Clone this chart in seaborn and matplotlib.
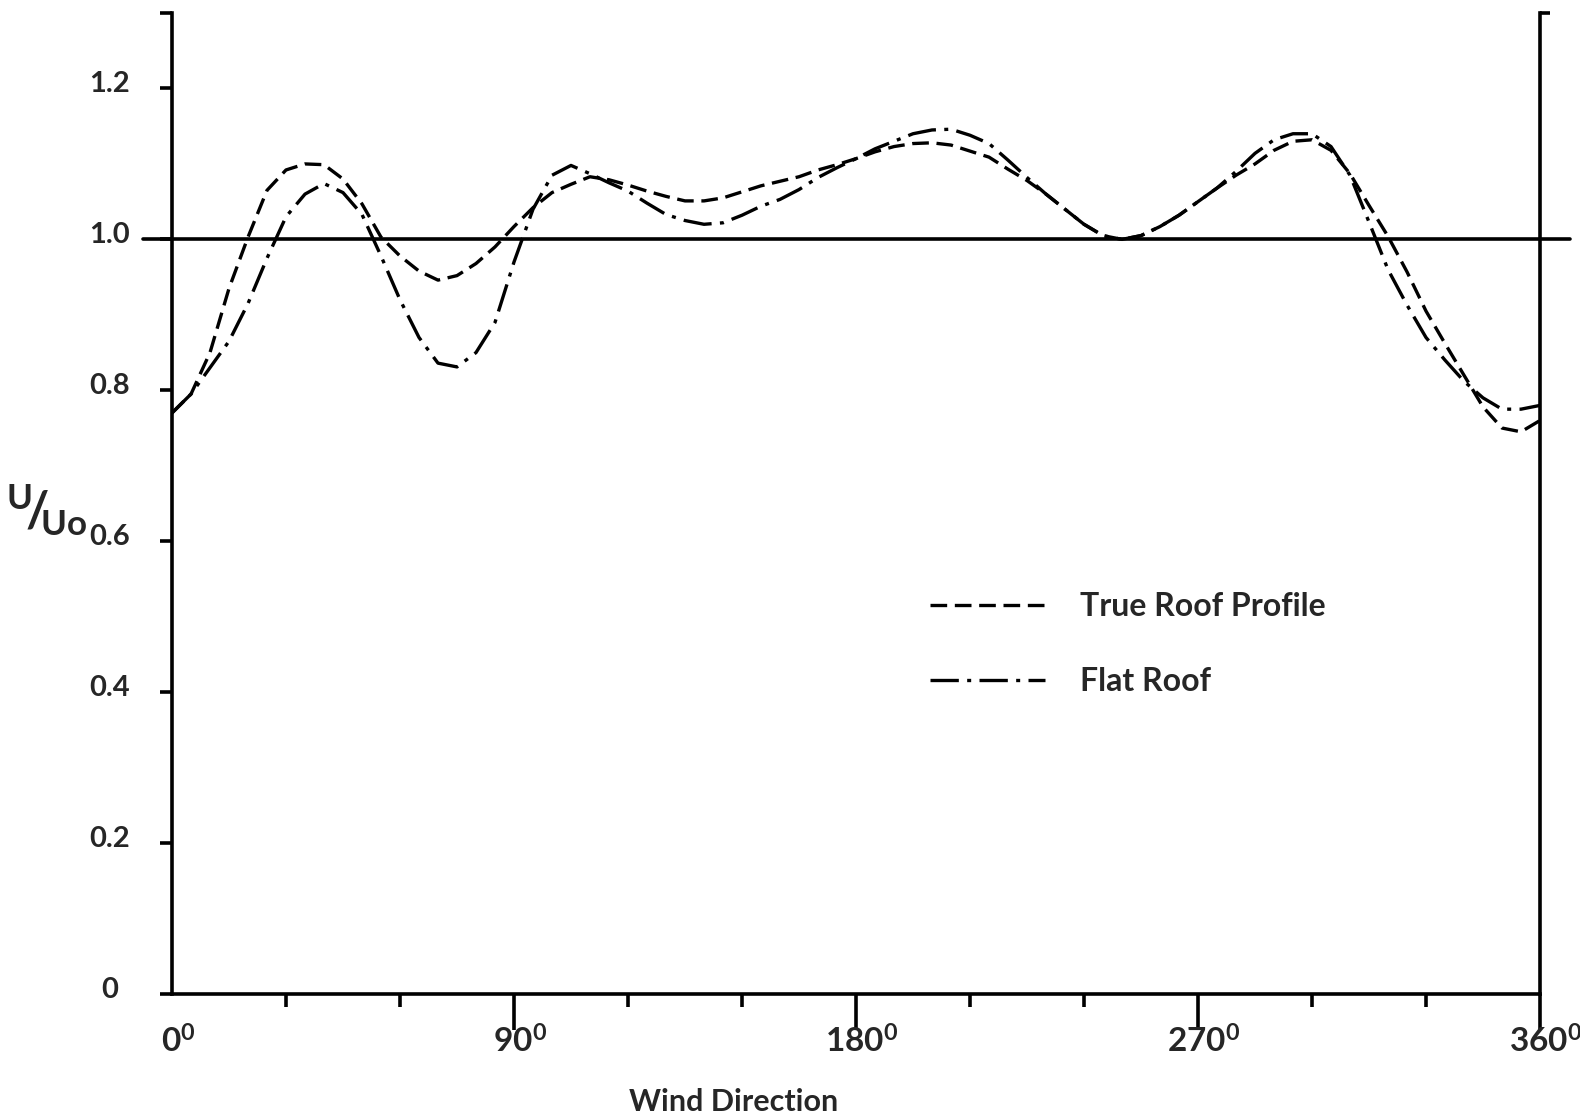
import matplotlib
matplotlib.use("Agg")
import matplotlib.pyplot as plt
import seaborn as sns
from matplotlib.transforms import ScaledTranslation

# ---- data ----
wind_direction = [0, 5, 10, 15, 20, 25, 30, 35, 40, 45, 50, 55, 60, 65, 70, 75, 80, 85, 90,
                  95, 100, 105, 110, 115, 120, 125, 130, 135, 140, 145, 150, 155, 160, 165, 170,
                  175, 180, 185, 190, 195, 200, 205, 210, 215, 220, 225, 230, 235, 240, 245, 250,
                  255, 260, 265, 270, 275, 280, 285, 290, 295, 300, 305, 310, 315, 320, 325, 330,
                  335, 340, 345, 350, 355, 360]

true_roof = [0.770, 0.795, 0.850, 0.935, 1.003, 1.065, 1.092, 1.100, 1.099, 1.080, 1.047, 1.003,
             0.978, 0.958, 0.946, 0.952, 0.968, 0.990, 1.017, 1.042, 1.062, 1.073, 1.083, 1.079,
             1.072, 1.064, 1.057, 1.051, 1.051, 1.055, 1.063, 1.071, 1.077, 1.083, 1.092, 1.099,
             1.107, 1.116, 1.123, 1.127, 1.128, 1.125, 1.117, 1.109, 1.093, 1.078, 1.060, 1.040,
             1.020, 1.005, 1.000, 1.005, 1.017, 1.032, 1.050, 1.068, 1.085, 1.100, 1.118, 1.130,
             1.132, 1.118, 1.087, 1.045, 1.004, 0.957, 0.905, 0.862, 0.820, 0.778, 0.750, 0.745,
             0.760]

flat_roof = [0.770, 0.795, 0.830, 0.865, 0.915, 0.975, 1.030, 1.060, 1.074, 1.062, 1.033, 0.978,
             0.920, 0.870, 0.836, 0.831, 0.850, 0.890, 0.970, 1.040, 1.085, 1.098, 1.087, 1.075,
             1.064, 1.048, 1.033, 1.025, 1.020, 1.022, 1.032, 1.044, 1.053, 1.066, 1.082, 1.095,
             1.107, 1.120, 1.130, 1.140, 1.145, 1.146, 1.138, 1.127, 1.105, 1.082, 1.060, 1.040,
             1.020, 1.005, 1.000, 1.005, 1.017, 1.032, 1.050, 1.068, 1.090, 1.114, 1.132, 1.140,
             1.140, 1.123, 1.085, 1.023, 0.960, 0.913, 0.870, 0.840, 0.812, 0.790, 0.775, 0.775,
             0.780]

series_labels = ["True Roof Profile", "Flat Roof"]
y_ticks = [0, 0.2, 0.4, 0.6, 0.8, 1.0, 1.2]
y_tick_labels = ["0", "0.2", "0.4", "0.6", "0.8", "1.0", "1.2"]
x_major = [0, 90, 180, 270, 360]
x_major_labels = [r"$\mathregular{0^0}$", r"$\mathregular{90^0}$", r"$\mathregular{180^0}$",
                  r"$\mathregular{270^0}$", r"$\mathregular{360^0}$"]
x_minor = [30, 60, 120, 150, 210, 240, 300, 330]
reference_level = 1.0

# ---- style ----
sns.set_theme(style="white")
plt.rcParams["font.family"] = ["Lato", "DejaVu Sans"]
plt.rcParams["font.weight"] = "bold"
plt.rcParams["mathtext.default"] = "regular"

W, H = 1580, 1114
fig = plt.figure(figsize=(W / 100, H / 100), dpi=100)
ax = fig.add_axes([172 / W, 1 - 994 / H, 1368 / W, 981 / H])

LW_AX = 2.6
sns.lineplot(x=wind_direction, y=true_roof, ax=ax, color="black", lw=2.4,
             linestyle=(0, (5, 2.3)), estimator=None, sort=False, label=series_labels[0])
sns.lineplot(x=wind_direction, y=flat_roof, ax=ax, color="black", lw=2.4,
             linestyle=(0, (8.5, 2.5, 1.2, 2.5)), estimator=None, sort=False,
             label=series_labels[1])

ax.axhline(reference_level, xmin=-0.021, xmax=1.022, color="black", lw=LW_AX, clip_on=False)

ax.set_xlim(0, 360)
ax.set_ylim(0, 1.3)

for side in ["left", "right", "bottom"]:
    ax.spines[side].set_color("black")
    ax.spines[side].set_linewidth(LW_AX)
ax.spines["top"].set_visible(False)

# y ticks
ax.set_yticks(y_ticks + [1.3], y_tick_labels + [""])
ax.tick_params(axis="y", direction="out", length=9, width=LW_AX, color="black",
               left=True, right=False, pad=36, labelsize=21)
for lbl in ax.get_yticklabels():
    lbl.set_ha("center")
    lbl.set_transform(lbl.get_transform() + ScaledTranslation(0, 7 / 100, fig.dpi_scale_trans))

# x ticks
ax.set_xticks(x_major, x_major_labels)
ax.set_xticks(x_minor, minor=True)
ax.tick_params(axis="x", which="major", direction="out", length=26, width=LW_AX,
               color="black", bottom=True, pad=-4, labelsize=24)
ax.tick_params(axis="x", which="minor", direction="out", length=9, width=LW_AX,
               color="black", bottom=True)
ax.xaxis.get_major_ticks()[0].tick1line.set_visible(False)
for lbl in ax.get_xticklabels():
    lbl.set_transform(lbl.get_transform() + ScaledTranslation(6 / 100, 0, fig.dpi_scale_trans))

ax.set_xlabel("")
ax.set_ylabel("")

# small hook at the top of the right axis
ax2 = ax.twinx()
ax2.set_ylim(0, 1.3)
ax2.set_yticks([1.3], [""])
ax2.tick_params(axis="y", direction="out", length=7, width=LW_AX, color="black", right=True)
for s in ax2.spines.values():
    s.set_visible(False)

# legend
handles = ax.get_lines()[:2]
ax.legend(handles, series_labels, loc="upper left",
          bbox_to_anchor=(930 / W, 1 - 592 / H), bbox_transform=fig.transFigure,
          frameon=False, handlelength=3.6, handletextpad=1.1, labelspacing=1.45,
          fontsize=23, borderpad=0, borderaxespad=0)

# axis titles
fig.text(734 / W, 1 - 1102 / H, "Wind Direction", ha="center", va="center", fontsize=22)
fig.text(46 / W, 1 - 510 / H, r"$^{U}\!/\!_{Uo}$", ha="center", va="center", fontsize=36)

fig.savefig("out.png", dpi=100, facecolor="white")
